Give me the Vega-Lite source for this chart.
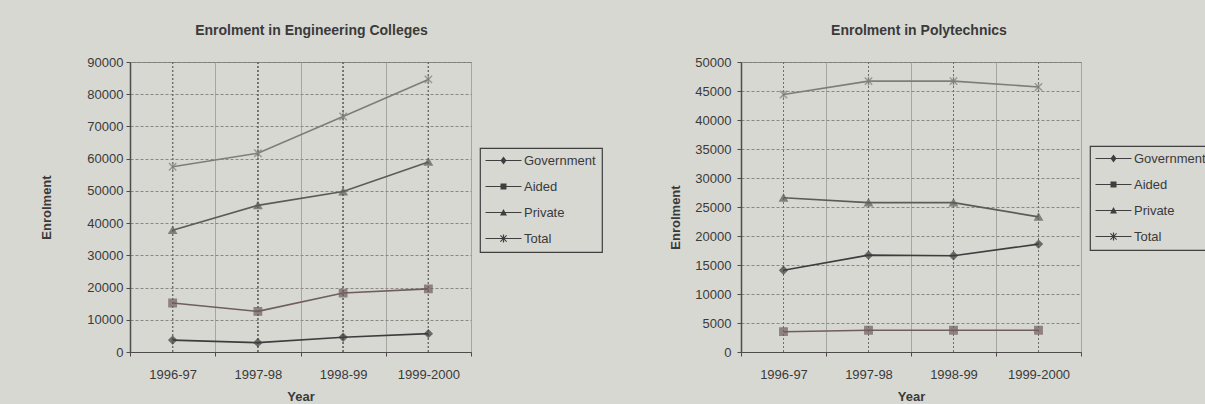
{
  "$schema": "https://vega.github.io/schema/vega-lite/v6.json",
  "background": "#d8d8d2",
  "padding": {"left": 39, "top": 23, "right": 0, "bottom": 0},
  "autosize": {"type": "pad"},
  "bounds": "flush",
  "spacing": 270,
  "config": {
    "font": "Liberation Sans",
    "view": {"stroke": "#7d7d78", "strokeWidth": 1},
    "axis": {
      "labelFont": "Liberation Sans", "labelFontSize": 13, "labelColor": "#3a3a3a",
      "titleFont": "Liberation Sans", "titleFontSize": 13, "titleFontWeight": "bold", "titleColor": "#3a3a3a",
      "domainColor": "#4f4b4b", "domainWidth": 1.5, "tickColor": "#4f4b4b", "tickSize": 4
    },
    "title": {"font": "Liberation Sans", "fontSize": 14, "fontWeight": "bold", "color": "#3a3a3a", "anchor": "middle", "frame": "group", "offset": 18},
    "legend": {
      "orient": "none", "title": null, "padding": 6, "strokeColor": "#3f3f3f", "strokeWidth": 1.2,
      "fillColor": "#d8d8d2", "labelFont": "Liberation Sans", "labelFontSize": 13, "labelColor": "#3a3a3a",
      "symbolSize": 100, "symbolOffset": 11, "labelOffset": 14, "rowPadding": 12,
      "symbolOpacity": 1, "symbolFillColor": "#3f3f3f", "symbolStrokeColor": "#3f3f3f", "symbolStrokeWidth": 0
    }
  },
  "datasets": {
    "eng": [
      {"year": "1996-97", "series": "Government", "value": 3700},
      {"year": "1997-98", "series": "Government", "value": 2900},
      {"year": "1998-99", "series": "Government", "value": 4600},
      {"year": "1999-2000", "series": "Government", "value": 5700},
      {"year": "1996-97", "series": "Aided", "value": 15200},
      {"year": "1997-98", "series": "Aided", "value": 12600},
      {"year": "1998-99", "series": "Aided", "value": 18300},
      {"year": "1999-2000", "series": "Aided", "value": 19600},
      {"year": "1996-97", "series": "Private", "value": 37800},
      {"year": "1997-98", "series": "Private", "value": 45500},
      {"year": "1998-99", "series": "Private", "value": 49800},
      {"year": "1999-2000", "series": "Private", "value": 59000},
      {"year": "1996-97", "series": "Total", "value": 57500},
      {"year": "1997-98", "series": "Total", "value": 61700},
      {"year": "1998-99", "series": "Total", "value": 73100},
      {"year": "1999-2000", "series": "Total", "value": 84600}
    ],
    "poly": [
      {"year": "1996-97", "series": "Government", "value": 14100},
      {"year": "1997-98", "series": "Government", "value": 16700},
      {"year": "1998-99", "series": "Government", "value": 16600},
      {"year": "1999-2000", "series": "Government", "value": 18600},
      {"year": "1996-97", "series": "Aided", "value": 3500},
      {"year": "1997-98", "series": "Aided", "value": 3750},
      {"year": "1998-99", "series": "Aided", "value": 3750},
      {"year": "1999-2000", "series": "Aided", "value": 3750},
      {"year": "1996-97", "series": "Private", "value": 26600},
      {"year": "1997-98", "series": "Private", "value": 25750},
      {"year": "1998-99", "series": "Private", "value": 25750},
      {"year": "1999-2000", "series": "Private", "value": 23300},
      {"year": "1996-97", "series": "Total", "value": 44400},
      {"year": "1997-98", "series": "Total", "value": 46700},
      {"year": "1998-99", "series": "Total", "value": 46700},
      {"year": "1999-2000", "series": "Total", "value": 45700}
    ]
  },
  "resolve": {
    "scale": {"color": "independent", "stroke": "independent", "shape": "independent"},
    "legend": {"shape": "independent", "color": "independent", "stroke": "independent"}
  },
  "hconcat": [
    {
      "width": 341, "height": 290,
      "title": {"text": "Enrolment in Engineering Colleges", "dx": 11},
      "data": {"name": "eng"},
      "encoding": {
        "x": {
          "field": "year", "type": "nominal",
          "scale": {"type": "band", "domain": ["1996-97", "1997-98", "1998-99", "1999-2000"], "paddingInner": 0, "paddingOuter": 0},
          "axis": {"title": "Year", "labelAngle": 0, "tickBand": "extent", "grid": true, "gridColor": "#a6a6a0", "gridWidth": 1, "labelPadding": 12, "titlePadding": 9, "domainWidth": 1.2}
        },
        "y": {
          "field": "value", "type": "quantitative",
          "scale": {"domain": [0, 90000], "nice": false},
          "axis": {"title": "Enrolment", "values": [0, 10000, 20000, 30000, 40000, 50000, 60000, 70000, 80000, 90000], "format": "d", "grid": true, "gridColor": "#8a8a85", "gridDash": [3, 2], "labelPadding": 3, "minExtent": 44, "maxExtent": 44, "titlePadding": 33}
        }
      },
      "layer": [
        {"mark": {"type": "rule", "color": "#6e6e69", "strokeDash": [2, 2], "strokeWidth": 1}, "encoding": {"y": null}},
        {
          "mark": {"type": "line", "strokeWidth": 1.6},
          "encoding": {
            "color": {"field": "series", "type": "nominal", "scale": {"domain": ["Government", "Aided", "Private", "Total"], "range": ["#3d3d3d", "#6f5e5e", "#5c5c57", "#7e7e79"]}, "legend": null}
          }
        },
        {
          "mark": {"type": "point", "filled": true, "size": 55, "strokeWidth": 1.4},
          "encoding": {
            "color": {"field": "series", "type": "nominal", "scale": {"domain": ["Government", "Aided", "Private", "Total"], "range": ["#3d3d3d", "#6f5e5e", "#5c5c57", "#7e7e79"]}, "legend": null},
            "stroke": {"field": "series", "type": "nominal", "scale": {"domain": ["Government", "Aided", "Private", "Total"], "range": ["#3d3d3d", "#6f5e5e", "#5c5c57", "#7e7e79"]}, "legend": null},
            "shape": {"field": "series", "type": "nominal", "scale": {"domain": ["Government", "Aided", "Private", "Total"], "range": ["diamond", "square", "triangle-up", "M-1,-1L1,1M-1,1L1,-1M0,-1.2V1.2"]}, "legend": null}
          }
        },
        {
          "mark": {"type": "point", "filled": true, "opacity": 0, "color": "#3f3f3f"},
          "encoding": {
            "shape": {"field": "series", "type": "nominal",
              "scale": {"domain": ["Government", "Aided", "Private", "Total"], "range": [
                "M-3.6,-0.12H3.6V0.12H-3.6ZM0,-0.8L0.6,0L0,0.8L-0.6,0Z",
                "M-3.6,-0.12H3.6V0.12H-3.6ZM-0.6,-0.6H0.6V0.6H-0.6Z",
                "M-3.6,-0.12H3.6V0.12H-3.6ZM0,-0.7L0.7,0.6H-0.7Z",
                "M-3.6,-0.12H3.6V0.12H-3.6ZM-0.7,-0.55L-0.55,-0.7L0.7,0.55L0.55,0.7ZM-0.7,0.55L0.55,-0.7L0.7,-0.55L-0.55,0.7ZM-0.12,-0.8H0.12V0.8H-0.12Z"]},
              "legend": {"legendX": 350, "legendY": 86}}
          }
        }
      ],
      "resolve": {"scale": {"shape": "independent"}}
    },
    {
      "width": 340, "height": 290,
      "title": {"text": "Enrolment in Polytechnics", "dx": 8},
      "data": {"name": "poly"},
      "encoding": {
        "x": {
          "field": "year", "type": "nominal",
          "scale": {"type": "band", "domain": ["1996-97", "1997-98", "1998-99", "1999-2000"], "paddingInner": 0, "paddingOuter": 0},
          "axis": {"title": "Year", "labelAngle": 0, "tickBand": "extent", "grid": true, "gridColor": "#a6a6a0", "gridWidth": 1, "labelPadding": 12, "titlePadding": 9, "domainWidth": 1.2}
        },
        "y": {
          "field": "value", "type": "quantitative",
          "scale": {"domain": [0, 50000], "nice": false},
          "axis": {"title": "Enrolment", "values": [0, 5000, 10000, 15000, 20000, 25000, 30000, 35000, 40000, 45000, 50000], "format": "d", "grid": true, "gridColor": "#8a8a85", "gridDash": [3, 2], "labelPadding": 6, "minExtent": 44, "maxExtent": 44, "titlePadding": 15, "titleY": 155}
        }
      },
      "layer": [
        {"mark": {"type": "rule", "color": "#6e6e69", "strokeDash": [2, 2], "strokeWidth": 1}, "encoding": {"y": null}},
        {
          "mark": {"type": "line", "strokeWidth": 1.6},
          "encoding": {
            "color": {"field": "series", "type": "nominal", "scale": {"domain": ["Government", "Aided", "Private", "Total"], "range": ["#3d3d3d", "#6f5e5e", "#5c5c57", "#7e7e79"]}, "legend": null}
          }
        },
        {
          "mark": {"type": "point", "filled": true, "size": 55, "strokeWidth": 1.4},
          "encoding": {
            "color": {"field": "series", "type": "nominal", "scale": {"domain": ["Government", "Aided", "Private", "Total"], "range": ["#3d3d3d", "#6f5e5e", "#5c5c57", "#7e7e79"]}, "legend": null},
            "stroke": {"field": "series", "type": "nominal", "scale": {"domain": ["Government", "Aided", "Private", "Total"], "range": ["#3d3d3d", "#6f5e5e", "#5c5c57", "#7e7e79"]}, "legend": null},
            "shape": {"field": "series", "type": "nominal", "scale": {"domain": ["Government", "Aided", "Private", "Total"], "range": ["diamond", "square", "triangle-up", "M-1,-1L1,1M-1,1L1,-1M0,-1.2V1.2"]}, "legend": null}
          }
        },
        {
          "mark": {"type": "point", "filled": true, "opacity": 0, "color": "#3f3f3f"},
          "encoding": {
            "shape": {"field": "series", "type": "nominal",
              "scale": {"domain": ["Government", "Aided", "Private", "Total"], "range": [
                "M-3.6,-0.12H3.6V0.12H-3.6ZM0,-0.8L0.6,0L0,0.8L-0.6,0Z",
                "M-3.6,-0.12H3.6V0.12H-3.6ZM-0.6,-0.6H0.6V0.6H-0.6Z",
                "M-3.6,-0.12H3.6V0.12H-3.6ZM0,-0.7L0.7,0.6H-0.7Z",
                "M-3.6,-0.12H3.6V0.12H-3.6ZM-0.7,-0.55L-0.55,-0.7L0.7,0.55L0.55,0.7ZM-0.7,0.55L0.55,-0.7L0.7,-0.55L-0.55,0.7ZM-0.12,-0.8H0.12V0.8H-0.12Z"]},
              "legend": {"legendX": 349, "legendY": 84}}
          }
        }
      ],
      "resolve": {"scale": {"shape": "independent"}}
    }
  ]
}
